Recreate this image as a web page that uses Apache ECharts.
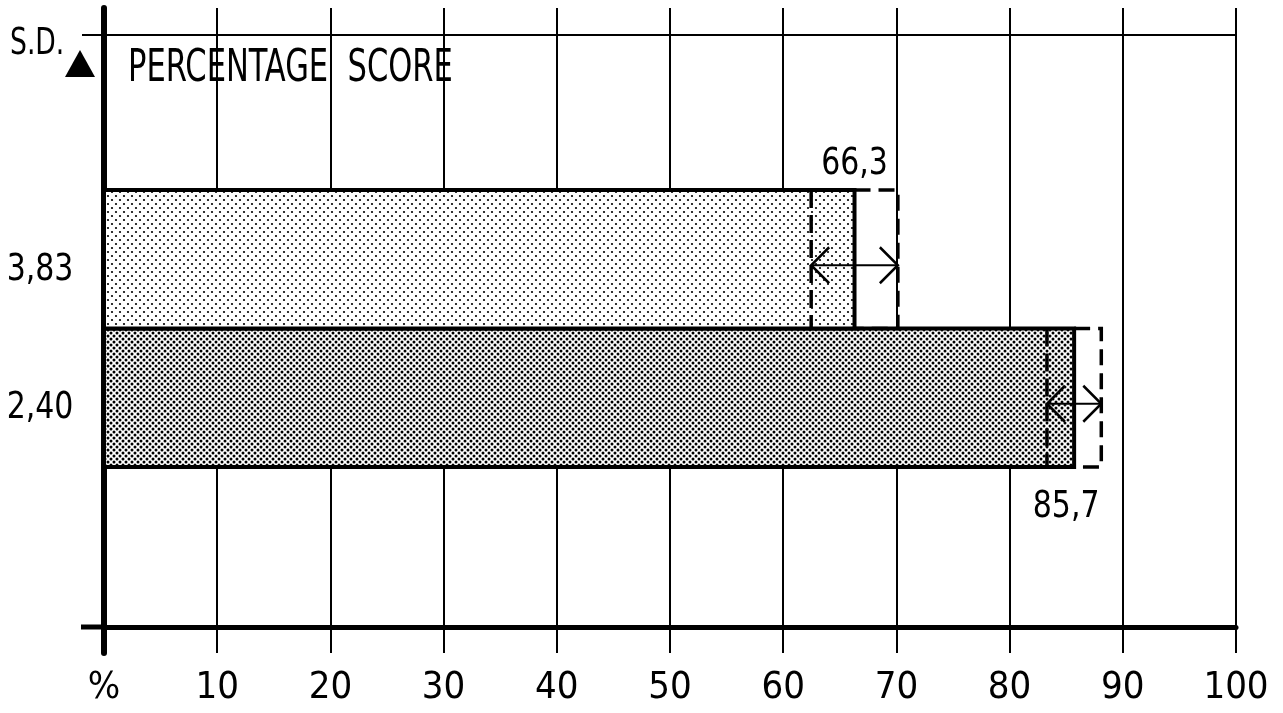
<!DOCTYPE html>
<html>
<head>
<meta charset="utf-8">
<script src="https://cdn.jsdelivr.net/npm/echarts@6/dist/echarts.min.js"></script>
<style>
  html, body { margin: 0; padding: 0; background: #fff; }
  #chart { width: 1283px; height: 713px; }
</style>
</head>
<body>
<div id="chart"></div>
<script>
// x-axis tick labels (the 0 tick reads "%")
const tickLabels = ['%', '10', '20', '30', '40', '50', '60', '70', '80', '90', '100'];
// rows from bottom to top
const meanScores = [85.7, 66.3];
const sdValues = [2.40, 3.83];

const FONT = '"Liberation Sans Narrow", "DejaVu Sans Condensed", "DejaVu Sans", sans-serif';
const GRID = { left: 104, right: 47, top: 8, bottom: 60 };
const H = 713;

function dotPattern(size, r) {
  const c = document.createElement('canvas');
  c.width = c.height = size;
  const ctx = c.getContext('2d');
  ctx.fillStyle = '#fff';
  ctx.fillRect(0, 0, size, size);
  ctx.fillStyle = '#000';
  [[0, 0], [size, 0], [0, size], [size, size], [size / 2, size / 2]].forEach(([x, y]) => {
    ctx.beginPath();
    ctx.arc(x, y, r, 0, Math.PI * 2);
    ctx.fill();
  });
  return c;
}
const patterns = [dotPattern(6, 1.5), dotPattern(8, 1.1)];

const comma = (v, d) => v.toFixed(d).replace('.', ',');

function renderBar(params, api) {
  const mean = api.value(0);
  const row = api.value(1);
  const sd = api.value(2);
  const [x0, yTop] = api.coord([0, row + 1]);
  const [xEnd, yBot] = api.coord([mean, row]);
  const xLo = api.coord([mean - sd, row])[0];
  const xHi = api.coord([mean + sd, row])[0];
  const yMid = (yTop + yBot) / 2 + 6;
  const head = 18;
  const isTop = row === meanScores.length - 1;
  const ink = { stroke: '#000', fill: null };
  return {
    type: 'group',
    children: [
      {
        type: 'rect',
        shape: { x: x0, y: yTop, width: xEnd - x0, height: yBot - yTop },
        style: { fill: { image: patterns[row], repeat: 'repeat' }, stroke: '#000', lineWidth: 4 }
      },
      {
        type: 'line',
        shape: { x1: xLo, y1: yTop, x2: xLo, y2: yBot },
        style: { ...ink, lineWidth: 3.5, lineDash: [18, 7] }
      },
      {
        type: 'polyline',
        shape: { points: [[xEnd, yTop], [xHi, yTop], [xHi, yBot], [xEnd, yBot]] },
        style: { ...ink, lineWidth: 3.5, lineDash: [16, 8] }
      },
      {
        type: 'line',
        shape: { x1: xLo, y1: yMid, x2: xHi, y2: yMid },
        style: { ...ink, lineWidth: 2 }
      },
      {
        type: 'polyline',
        shape: { points: [[xLo + head, yMid - head], [xLo, yMid], [xLo + head, yMid + head]] },
        style: { ...ink, lineWidth: 2.5 }
      },
      {
        type: 'polyline',
        shape: { points: [[xHi - head, yMid - head], [xHi, yMid], [xHi - head, yMid + head]] },
        style: { ...ink, lineWidth: 2.5 }
      },
      {
        type: 'text',
        x: isTop ? xEnd : xEnd - 8,
        y: isTop ? yTop - 7 : yBot + 22,
        scaleX: 0.9,
        style: {
          text: comma(mean, 1),
          align: 'center', verticalAlign: isTop ? 'bottom' : 'top',
          fontSize: 37, fontFamily: FONT, fill: '#000'
        }
      },
      {
        type: 'text',
        x: x0 - 64,
        y: (yTop + yBot) / 2 + 11,
        scaleX: 0.9,
        style: {
          text: comma(sd, 2),
          align: 'center', verticalAlign: 'middle',
          fontSize: 37, fontFamily: FONT, fill: '#000'
        }
      }
    ]
  };
}

const chart = echarts.init(document.getElementById('chart'));
const axisBottomY = H - GRID.bottom - 26;
const axisTopY = GRID.top + 27;

chart.setOption({
  animation: false,
  backgroundColor: '#fff',
  grid: GRID,
  xAxis: [
    {
      type: 'value', position: 'bottom', min: 0, max: 100, interval: 10, offset: -26,
      axisLine: { show: true, onZero: false, lineStyle: { color: '#000', width: 5 } },
      axisTick: { show: false },
      axisLabel: {
        formatter: (v) => tickLabels[Math.round(v / 10)],
        showMinLabel: true, showMaxLabel: true,
        margin: 42, fontSize: 38, fontFamily: FONT, color: '#000'
      },
      splitLine: { show: true, lineStyle: { color: '#000', width: 2 } }
    },
    {
      type: 'value', position: 'top', min: 0, max: 100, interval: 10, offset: -27,
      axisLine: { show: true, onZero: false, lineStyle: { color: '#000', width: 2 } },
      axisTick: { show: false }, axisLabel: { show: false }, splitLine: { show: false }
    }
  ],
  yAxis: {
    type: 'value', min: -1.343, max: 3.314,
    axisLine: { show: true, onZero: false, lineStyle: { color: '#000', width: 6 } },
    axisTick: { show: false }, axisLabel: { show: false }, splitLine: { show: false }
  },
  series: [{
    type: 'custom',
    renderItem: renderBar,
    encode: { x: 0, y: 1 },
    data: meanScores.map((m, i) => [m, i, sdValues[i]])
  }],
  graphic: [
    { type: 'line', shape: { x1: GRID.left - 23, y1: axisBottomY, x2: GRID.left, y2: axisBottomY }, style: { stroke: '#000', lineWidth: 5 } },
    { type: 'line', shape: { x1: GRID.left - 22, y1: axisTopY, x2: GRID.left, y2: axisTopY }, style: { stroke: '#000', lineWidth: 2 } },
    { type: 'text', x: 10, y: 44, scaleX: 0.8, style: { text: 'S.D.', fontSize: 37, fontFamily: FONT, fill: '#000', verticalAlign: 'middle' } },
    { type: 'polygon', shape: { points: [[GRID.left - 39, 77], [GRID.left - 9, 77], [GRID.left - 24, 50]] }, style: { fill: '#000' } },
    { type: 'text', x: 128, y: 69, scaleX: 0.755, style: { text: 'PERCENTAGE  SCORE', fontSize: 45, fontFamily: FONT, fill: '#000', verticalAlign: 'middle' } }
  ]
});
</script>
</body>
</html>
